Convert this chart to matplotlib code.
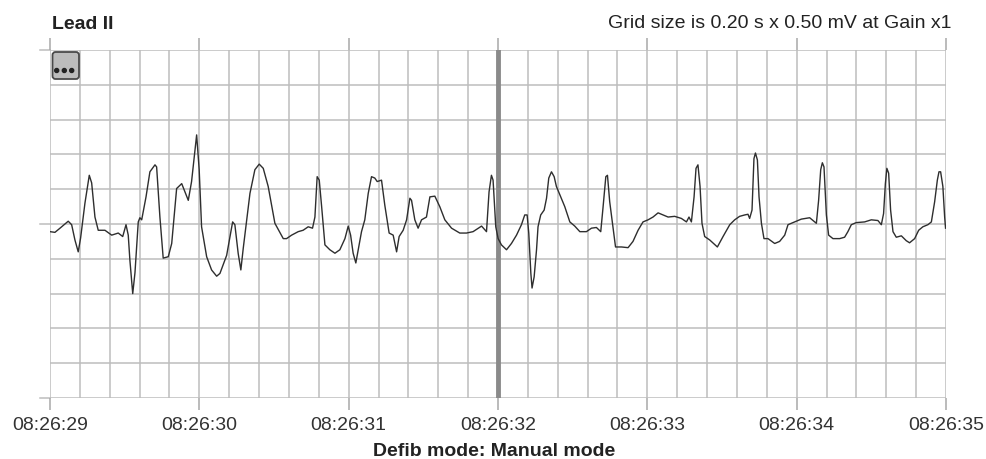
import numpy as np
import matplotlib
matplotlib.use("Agg")
import matplotlib.pyplot as plt
from matplotlib.patches import FancyBboxPatch, Circle

plt.rcParams['font.family'] = ['Liberation Sans', 'DejaVu Sans']

# ECG lead II trace, time in s from 08:26:29, amplitude in mV
t = [0, 0.033, 0.067, 0.122, 0.145, 0.167, 0.189, 0.205, 0.234, 0.263,
     0.279, 0.301, 0.323, 0.368, 0.413, 0.457, 0.487, 0.509, 0.524, 0.535,
     0.554, 0.569, 0.591, 0.602, 0.614, 0.643, 0.669, 0.703, 0.714, 0.736,
     0.758, 0.792, 0.815, 0.848, 0.882, 0.904, 0.926, 0.948, 0.971, 0.982,
     0.999, 1.015, 1.049, 1.082, 1.116, 1.138, 1.183, 1.223, 1.238, 1.260,
     1.278, 1.294, 1.339, 1.372, 1.401, 1.428, 1.461, 1.506, 1.562, 1.584,
     1.618, 1.662, 1.695, 1.729, 1.758, 1.774, 1.789, 1.803, 1.819, 1.841,
     1.874, 1.908, 1.941, 1.975, 1.997, 2.013, 2.030, 2.048, 2.064, 2.086,
     2.108, 2.131, 2.153, 2.175, 2.191, 2.220, 2.242, 2.271, 2.298, 2.321,
     2.338, 2.365, 2.388, 2.410, 2.421, 2.443, 2.465, 2.488, 2.521, 2.544,
     2.577, 2.610, 2.644, 2.689, 2.744, 2.789, 2.833, 2.890, 2.923, 2.940,
     2.956, 2.967, 2.985, 3.001, 3.023, 3.057, 3.090, 3.124, 3.157, 3.179,
     3.195, 3.206, 3.220, 3.228, 3.242, 3.258, 3.268, 3.286, 3.309, 3.325,
     3.340, 3.358, 3.376, 3.391, 3.414, 3.447, 3.481, 3.514, 3.548, 3.592,
     3.626, 3.659, 3.688, 3.703, 3.722, 3.733, 3.748, 3.771, 3.787, 3.827,
     3.871, 3.904, 3.938, 3.971, 4.005, 4.038, 4.072, 4.105, 4.139, 4.183,
     4.228, 4.262, 4.279, 4.295, 4.313, 4.326, 4.339, 4.353, 4.366, 4.384,
     4.418, 4.469, 4.507, 4.552, 4.585, 4.618, 4.652, 4.674, 4.685, 4.701,
     4.714, 4.724, 4.737, 4.748, 4.764, 4.781, 4.808, 4.853, 4.886, 4.920,
     4.942, 4.987, 5.031, 5.087, 5.120, 5.132, 5.147, 5.161, 5.172, 5.183,
     5.199, 5.214, 5.243, 5.288, 5.321, 5.343, 5.366, 5.399, 5.455, 5.500,
     5.544, 5.567, 5.582, 5.594, 5.604, 5.616, 5.629, 5.645, 5.667, 5.701,
     5.734, 5.756, 5.790, 5.817, 5.845, 5.879, 5.902, 5.924, 5.942, 5.953,
     5.964, 5.979, 5.991, 5.997]
mv = [-0.11, -0.12, -0.06, 0.04, -0.01, -0.23, -0.40, -0.20, 0.30, 0.70,
      0.59, 0.10, -0.09, -0.09, -0.16, -0.13, -0.18, -0.01, -0.16, -0.52,
      -1.00, -0.70, 0.03, 0.09, 0.06, 0.39, 0.75, 0.85, 0.82, 0.10,
      -0.49, -0.47, -0.28, 0.51, 0.58, 0.46, 0.34, 0.61, 1.06, 1.28,
      0.78, -0.04, -0.47, -0.66, -0.75, -0.71, -0.45, 0.03, -0.01, -0.42,
      -0.66, -0.35, 0.44, 0.78, 0.86, 0.80, 0.54, 0.01, -0.21, -0.21,
      -0.16, -0.11, -0.09, -0.04, -0.06, 0.10, 0.68, 0.63, 0.25, -0.30,
      -0.37, -0.42, -0.37, -0.21, -0.03, -0.16, -0.42, -0.56, -0.37, -0.11,
      0.06, 0.44, 0.68, 0.66, 0.61, 0.63, 0.27, -0.13, -0.16, -0.40,
      -0.18, -0.09, 0.06, 0.37, 0.34, 0.06, -0.06, 0.06, 0.10, 0.39,
      0.40, 0.25, 0.06, -0.06, -0.13, -0.13, -0.11, -0.03, -0.11, 0.46,
      0.70, 0.63, -0.04, -0.21, -0.30, -0.37, -0.28, -0.16, -0.01, 0.13,
      0.13, -0.13, -0.71, -0.92, -0.76, -0.37, -0.04, 0.13, 0.20, 0.37,
      0.66, 0.75, 0.68, 0.54, 0.42, 0.25, 0.03, -0.03, -0.11, -0.11,
      -0.06, -0.05, -0.11, 0.23, 0.68, 0.70, 0.32, -0.06, -0.33, -0.33,
      -0.34, -0.25, -0.09, 0.03, 0.06, 0.10, 0.16, 0.13, 0.10, 0.11,
      0.08, 0.03, 0.10, 0.03, 0.39, 0.80, 0.85, 0.54, 0.01, -0.18,
      -0.23, -0.33, -0.18, -0.01, 0.06, 0.11, 0.13, 0.14, 0.08, 0.20,
      0.94, 1.02, 0.92, 0.39, 0.01, -0.21, -0.21, -0.28, -0.25, -0.16,
      -0.01, 0.03, 0.07, 0.09, 0.03, 0.01, 0.34, 0.78, 0.88, 0.82,
      0.13, -0.16, -0.21, -0.21, -0.19, -0.11, -0.01, 0.02, 0.03, 0.06,
      0.05, -0.01, 0.15, 0.58, 0.80, 0.73, 0.20, -0.11, -0.19, -0.17,
      -0.24, -0.27, -0.21, -0.09, -0.04, -0.01, 0.03, 0.32, 0.63, 0.75,
      0.75, 0.54, 0.10, -0.06]
tick_labels = ['08:26:29', '08:26:30', '08:26:31', '08:26:32',
               '08:26:33', '08:26:34', '08:26:35']
marker_time = 3.0

W, H = 987, 459
fig = plt.figure(figsize=(W / 100, H / 100), dpi=100)
ax = fig.add_axes([50 / W, (H - 398) / H, 896 / W, 348 / H])
ax.set_xlim(0, 6)
ax.set_ylim(-2.5, 2.5)
for s in ax.spines.values():
    s.set_visible(False)

gcol = '#bdbdbd'
for x in np.arange(0, 6.01, 0.2):
    ax.axvline(x, color=gcol, lw=1.1, zorder=1)
for y in np.arange(-2.5, 2.51, 0.5):
    ax.axhline(y, color=gcol, lw=1.1, zorder=1)
# top, middle and bottom lines stick out to the left
for y in (-2.5, 0, 2.5):
    ax.plot([-0.067, 0], [y, y], color=gcol, lw=1.1, clip_on=False, zorder=1)

ax.axvline(marker_time, color='#8a8a8a', lw=3.5, zorder=2)
ax.plot(t, mv, color='#2e2e2e', lw=1.0, zorder=3)

ax.set_xticks(range(7))
ax.set_xticklabels(tick_labels, fontsize=14, color='#333333')
ax.set_yticks([])
ax.tick_params(axis='x', top=True, length=8.5, width=1.1, color='#a8a8a8', pad=5)

fig.text(52 / W, 1 - 29 / H, 'Lead II', fontsize=14, fontweight='bold',
         color='#222222', ha='left', va='baseline')
fig.text(952 / W, 1 - 28 / H, 'Grid size is 0.20 s x 0.50 mV at Gain x1',
         fontsize=14, color='#222222', ha='right', va='baseline')
fig.text(494 / W, 1 - 456 / H, 'Defib mode: Manual mode', fontsize=14,
         fontweight='bold', color='#222222', ha='center', va='baseline')

# small menu button in the corner
btn = FancyBboxPatch((0.525, (H - 79) / 100), 0.265, 0.27,
                     boxstyle='round,pad=0,rounding_size=0.03',
                     transform=fig.dpi_scale_trans, facecolor='#bcbcbc',
                     edgecolor='#4a4a4a', lw=1.3, zorder=5)
fig.patches.append(btn)
for dx in (0.567, 0.643, 0.717):
    fig.patches.append(Circle((dx, (H - 70.5) / 100), 0.02,
                              transform=fig.dpi_scale_trans,
                              color='#222222', zorder=6))

fig.savefig('out.png', dpi=100)
